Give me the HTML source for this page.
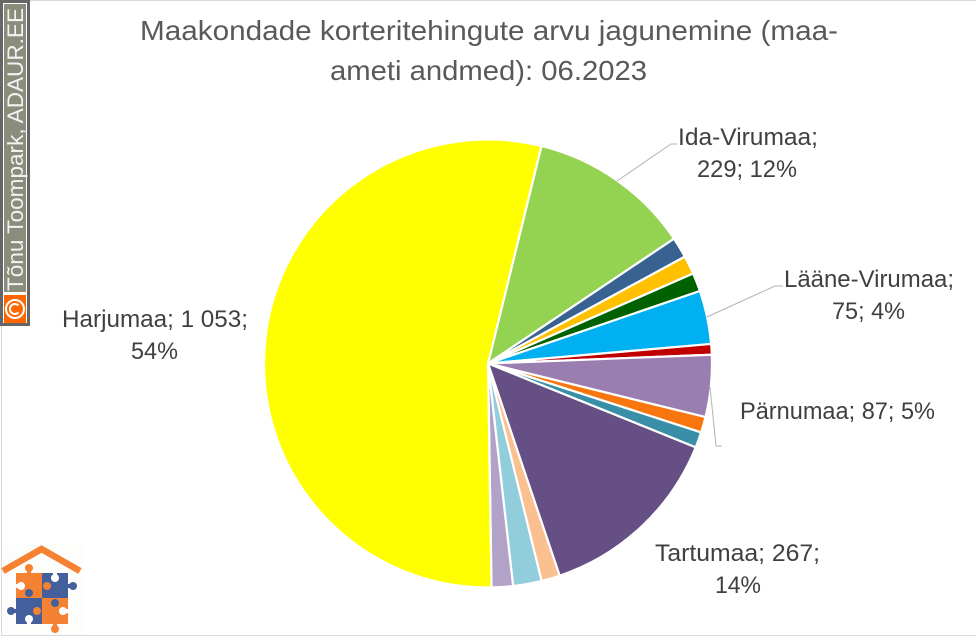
<!DOCTYPE html>
<html lang="et">
<head>
<meta charset="utf-8">
<title>Maakondade korteritehingute arvu jagunemine</title>
<style>
html,body{margin:0;padding:0;background:#fff;width:976px;height:637px;overflow:hidden}
svg{display:block}
text{font-family:"Liberation Sans",sans-serif}
.lbl{font-size:24px;fill:#404040}
.ttl{font-size:27.5px;fill:#595959}
</style>
</head>
<body>
<svg id="chart" xmlns="http://www.w3.org/2000/svg" width="976" height="637" viewBox="0 0 976 637">
  <rect x="1.5" y="0.5" width="980" height="635" fill="#fff" stroke="#d9d9d9" stroke-width="1"/>
  <g id="slices"></g>

  <text class="ttl" x="140" y="40" textLength="698" lengthAdjust="spacingAndGlyphs">Maakondade korteritehingute arvu jagunemine (maa-</text>
  <text class="ttl" x="330" y="80" textLength="317" lengthAdjust="spacingAndGlyphs">ameti andmed): 06.2023</text>

  <polyline points="617,181 671,144 677,144" fill="none" stroke="#b3b3b3" stroke-width="1"/>
  <polyline points="707,317 775,286 783,286" fill="none" stroke="#b3b3b3" stroke-width="1"/>
  <polyline points="710,387 716,446 722,446" fill="none" stroke="#b3b3b3" stroke-width="1"/>

  <g>
    <text class="lbl" x="678" y="145" textLength="140" lengthAdjust="spacingAndGlyphs">Ida-Virumaa;</text>
    <text class="lbl" x="697" y="177" textLength="100" lengthAdjust="spacingAndGlyphs">229; 12%</text>
  </g>
  <g>
    <text class="lbl" x="784" y="287" textLength="170" lengthAdjust="spacingAndGlyphs">Lääne-Virumaa;</text>
    <text class="lbl" x="832" y="319" textLength="73" lengthAdjust="spacingAndGlyphs">75; 4%</text>
  </g>
  <g>
    <text class="lbl" x="740" y="419" textLength="195" lengthAdjust="spacingAndGlyphs">Pärnumaa; 87; 5%</text>
  </g>
  <g>
    <text class="lbl" x="655" y="561" textLength="165" lengthAdjust="spacingAndGlyphs">Tartumaa; 267;</text>
    <text class="lbl" x="715" y="593" textLength="46" lengthAdjust="spacingAndGlyphs">14%</text>
  </g>
  <g>
    <text class="lbl" x="62" y="327" textLength="186" lengthAdjust="spacingAndGlyphs">Harjumaa; 1 053;</text>
    <text class="lbl" x="131" y="359" textLength="47" lengthAdjust="spacingAndGlyphs">54%</text>
  </g>

  <g>
    <rect x="0" y="0" width="30" height="326" fill="#666666"/>
    <rect x="3" y="3" width="24" height="320" fill="#ffffff"/>
    <rect x="4" y="4" width="22" height="288" fill="#8c8c7c"/>
    <rect x="4" y="295" width="22" height="28" fill="#ff6600"/>
    <text transform="translate(23,291) rotate(-90)" font-size="22" fill="#f2f2f2" textLength="283" lengthAdjust="spacingAndGlyphs">Tõnu Toompark, ADAUR.EE</text>
    <g>
      <circle cx="15" cy="309" r="9" fill="none" stroke="#fff" stroke-width="2"/>
      <path d="M18.5 305.5 A5 5 0 1 0 18.5 312.5" fill="none" stroke="#fff" stroke-width="2"/>
    </g>
  </g>

  <g>
    <rect x="2" y="543" width="82" height="92" fill="#fdfdfb"/>
    <polyline points="3,571 41.5,549 80,571" fill="none" stroke="#f58232" stroke-width="6.5"/>
    <rect x="16" y="573" width="26" height="25" fill="#f58232"/>
    <rect x="42" y="573" width="26" height="25" fill="#43609c"/>
    <rect x="16" y="598" width="26" height="26" fill="#43609c"/>
    <rect x="42" y="598" width="26" height="26" fill="#f58232"/>
    <g>
      <circle cx="29" cy="568" r="4" fill="#f58232"/><rect x="27" y="568" width="4" height="6" fill="#f58232"/>
      <circle cx="73" cy="586" r="4" fill="#43609c"/><rect x="67" y="584" width="6" height="4" fill="#43609c"/>
      <circle cx="11" cy="611" r="4" fill="#43609c"/><rect x="11" y="609" width="6" height="4" fill="#43609c"/>
      <circle cx="55" cy="629" r="4" fill="#f58232"/><rect x="53" y="623" width="4" height="6" fill="#f58232"/>
    </g>
    <g>
      <circle cx="55" cy="578" r="4" fill="#fff"/><rect x="53" y="572" width="4" height="6" fill="#fff"/>
      <circle cx="21" cy="586" r="4" fill="#fff"/><rect x="15" y="584" width="6" height="4" fill="#fff"/>
      <circle cx="29" cy="619" r="4" fill="#fff"/><rect x="27" y="619" width="4" height="6" fill="#fff"/>
      <circle cx="63" cy="611" r="4" fill="#fff"/><rect x="63" y="609" width="6" height="4" fill="#fff"/>
    </g>
    <g>
      <circle cx="47" cy="586" r="4" fill="#f58232"/>
      <circle cx="29" cy="593" r="4" fill="#43609c"/>
      <circle cx="55" cy="603" r="4" fill="#43609c"/>
      <circle cx="37" cy="611" r="4" fill="#f58232"/>
    </g>
  </g>
</svg>
<script>
const categories = ["Ida-Virumaa","Maakond-2","Maakond-3","Maakond-4","Lääne-Virumaa","Maakond-6","Pärnumaa","Maakond-8","Maakond-9","Tartumaa","Maakond-11","Maakond-12","Maakond-13","Harjumaa"];
const seriesValues = [229,29,26,26,75,15,87,22,22,267,26,40,30,1053];
const sliceColors = ["#94d352","#386292","#ffc000","#006100","#00b0f0","#c00000","#9a7eb0","#f7760f","#3a8fa8","#664f84","#fac090","#92cddc","#b3a2c7","#ffff00"];

const svgNS = "http://www.w3.org/2000/svg";
const pieCx = 488, pieCy = 363.5, pieR = 224, firstAngle = 13.8;
const total = seriesValues.reduce(function(a,b){return a+b;},0);
function angleOf(cumulative){ return firstAngle + cumulative / total * 360; }
function polar(deg){
  const r = deg * Math.PI / 180;
  return [pieCx + pieR * Math.sin(r), pieCy - pieR * Math.cos(r)];
}
const group = document.getElementById("slices");
let cumulative = 0;
seriesValues.forEach(function(v,i){
  const a0 = angleOf(cumulative);
  cumulative += v;
  const a1 = angleOf(cumulative);
  const p0 = polar(a0), p1 = polar(a1);
  const large = (a1 - a0) > 180 ? 1 : 0;
  const el = document.createElementNS(svgNS,"path");
  el.setAttribute("d","M"+pieCx+" "+pieCy+" L"+p0[0].toFixed(2)+" "+p0[1].toFixed(2)+" A"+pieR+" "+pieR+" 0 "+large+" 1 "+p1[0].toFixed(2)+" "+p1[1].toFixed(2)+" Z");
  el.setAttribute("fill",sliceColors[i]);
  el.setAttribute("stroke","#ffffff");
  el.setAttribute("stroke-width","2.2");
  el.setAttribute("stroke-linejoin","round");
  
  
  const tip = document.createElementNS(svgNS,"title");
  tip.textContent = categories[i] + ": " + v;
  el.appendChild(tip);
  group.appendChild(el);
});
</script>
</body>
</html>
